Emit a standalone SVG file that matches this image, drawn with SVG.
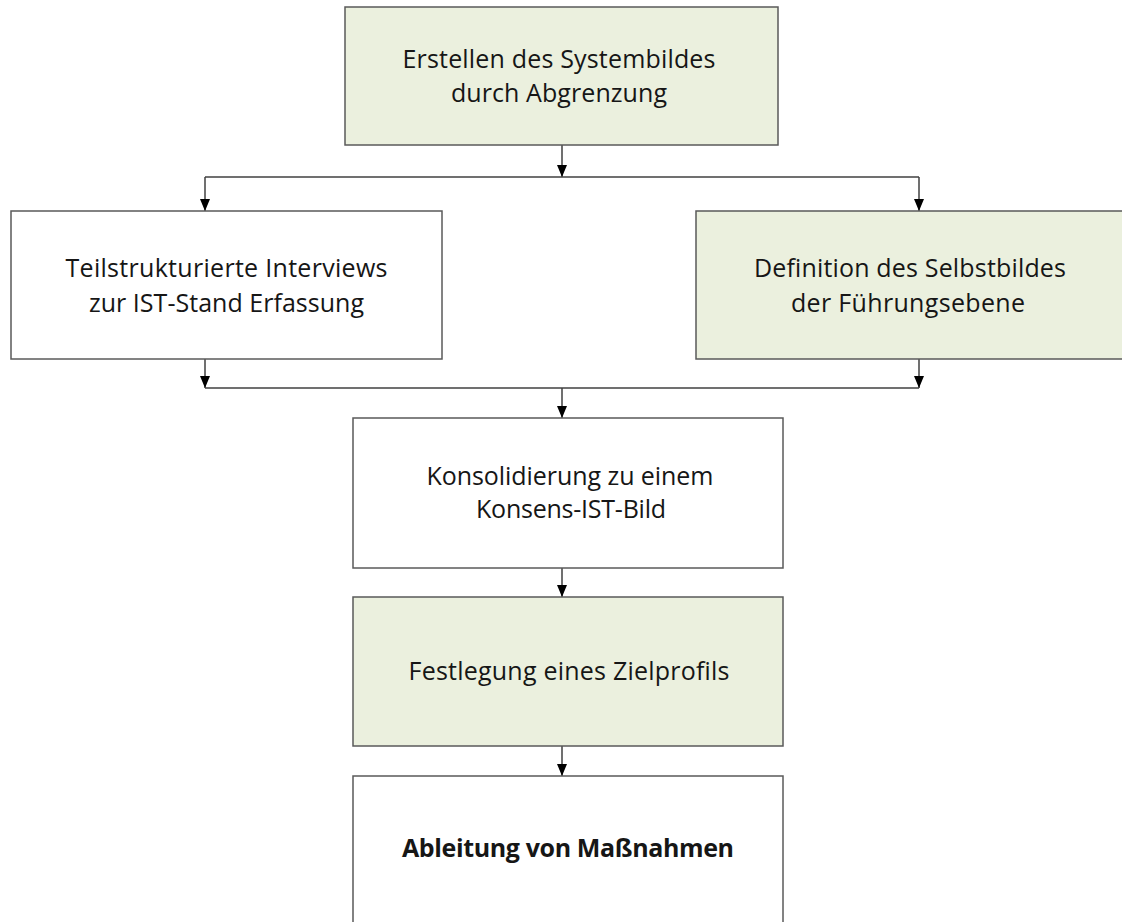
<svg xmlns="http://www.w3.org/2000/svg" width="1122" height="922" viewBox="0 0 1122 922">
  <defs>
    <marker id="arrow" viewBox="0 0 12 10" refX="12" refY="5" markerWidth="12" markerHeight="10" markerUnits="userSpaceOnUse" orient="auto">
      <path d="M0,0 L12,5 L0,10 Z" fill="#000000"/>
    </marker>
    <style>
      .box { stroke: #5A5A5A; stroke-width: 1.5; }
      .green { fill: #EBF0DE; }
      .white { fill: #FFFFFF; }
      .label { font-family: "Open Sans", "Liberation Sans", sans-serif; font-size: 25px; fill: #161616; text-anchor: middle; }
      .bold { font-weight: bold; }
      .conn { stroke: #404040; stroke-width: 1.5; fill: none; }
    </style>
  </defs>
  <rect width="1122" height="922" fill="#FFFFFF"/>

  <!-- connectors -->
  <g id="connectors">
    <line class="conn" x1="562" y1="145" x2="562" y2="177" marker-end="url(#arrow)"/>
    <line class="conn" x1="205" y1="177" x2="919" y2="177"/>
    <line class="conn" x1="205" y1="177" x2="205" y2="211" marker-end="url(#arrow)"/>
    <line class="conn" x1="919" y1="177" x2="919" y2="211" marker-end="url(#arrow)"/>
    <line class="conn" x1="205" y1="359" x2="205" y2="388" marker-end="url(#arrow)"/>
    <line class="conn" x1="919" y1="359" x2="919" y2="388" marker-end="url(#arrow)"/>
    <line class="conn" x1="205" y1="388" x2="919" y2="388"/>
    <line class="conn" x1="562" y1="388" x2="562" y2="418" marker-end="url(#arrow)"/>
    <line class="conn" x1="562" y1="568" x2="562" y2="597" marker-end="url(#arrow)"/>
    <line class="conn" x1="562" y1="746" x2="562" y2="776" marker-end="url(#arrow)"/>
  </g>

  <!-- nodes -->
  <g id="node-systembild">
    <rect class="box green" x="345" y="7" width="433" height="138"/>
    <text class="label" x="559" y="68" textLength="313" lengthAdjust="spacing">Erstellen des Systembildes</text>
    <text class="label" x="559" y="102" textLength="216" lengthAdjust="spacing">durch Abgrenzung</text>
  </g>

  <g id="node-interviews">
    <rect class="box white" x="11" y="211" width="431" height="148"/>
    <text class="label" x="226.5" y="277" textLength="322" lengthAdjust="spacing">Teilstrukturierte Interviews</text>
    <text class="label" x="226.5" y="312" textLength="275" lengthAdjust="spacing">zur IST-Stand Erfassung</text>
  </g>

  <g id="node-selbstbild">
    <rect class="box green" x="696" y="211" width="430" height="148"/>
    <text class="label" x="910" y="277" textLength="312" lengthAdjust="spacing">Definition des Selbstbildes</text>
    <text class="label" x="908" y="312" textLength="234" lengthAdjust="spacing">der Führungsebene</text>
  </g>

  <g id="node-konsolidierung">
    <rect class="box white" x="353" y="418" width="430" height="150"/>
    <text class="label" x="570" y="485" textLength="287" lengthAdjust="spacing">Konsolidierung zu einem</text>
    <text class="label" x="571" y="518" textLength="190" lengthAdjust="spacing">Konsens-IST-Bild</text>
  </g>

  <g id="node-zielprofil">
    <rect class="box green" x="353" y="597" width="430" height="149"/>
    <text class="label" x="569" y="680" textLength="321" lengthAdjust="spacing">Festlegung eines Zielprofils</text>
  </g>

  <g id="node-massnahmen">
    <rect class="box white" x="353" y="776" width="430" height="160"/>
    <text class="label bold" x="568" y="857" textLength="332" lengthAdjust="spacing">Ableitung von Maßnahmen</text>
  </g>
</svg>
